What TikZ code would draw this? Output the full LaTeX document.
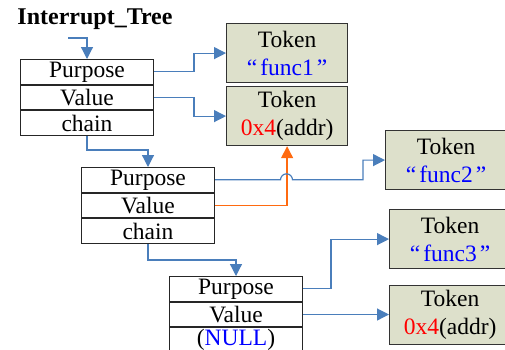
\documentclass[tikz,border=0pt]{standalone}
\usepackage{fontspec}
\setmainfont{Liberation Serif}
\usetikzlibrary{arrows.meta}
\definecolor{linkblue}{HTML}{4A7EBB}
\definecolor{linkorange}{HTML}{FF6A10}
\definecolor{tokenfill}{HTML}{DDE0CB}
\definecolor{txtblue}{HTML}{0000FF}
\definecolor{txtred}{HTML}{FF0000}
\begin{document}
\begin{tikzpicture}[x=1pt,y=-1pt,
  field/.style={draw=black!85, line width=1pt, fill=white,
    minimum width=133pt, minimum height=24.67pt, inner sep=0pt,
    font=\fontsize{23.5}{25}\selectfont},
  token/.style={draw=black!80, line width=1.2pt, fill=tokenfill,
    minimum width=121pt, minimum height=59pt, inner sep=0pt,
    align=center, font=\fontsize{23.5}{28}\selectfont},
  link/.style={draw=linkblue, line width=1.2pt,
    -{Triangle[length=12pt,width=12pt]}},
  backlink/.style={draw=linkorange, line width=1.4pt,
    -{Triangle[length=12pt,width=12pt]}}]
\useasboundingbox (0,0) rectangle (505,349);
\clip (0,0) rectangle (505,349);

% title and entry pointer
\node[font=\fontsize{24}{26}\selectfont\bfseries] (title) at (95,19) {Interrupt\_Tree};
\coordinate (entry) at (68,38);

% first element
\node[field, anchor=north west] (p1) at (20,59) {Purpose};
\node[field, anchor=north] (v1) at (p1.south) {Value};
\node[field, anchor=north] (c1) at (v1.south) {chain};

% second element
\node[field, anchor=north west] (p2) at (81,167) {Purpose};
\node[field, anchor=north] (v2) at (p2.south) {Value};
\node[field, anchor=north] (c2) at (v2.south) {chain};

% third element
\node[field, anchor=north west] (p3) at (169,276) {Purpose};
\node[field, anchor=north] (v3) at (p3.south) {Value};
\node[field, anchor=north] (c3) at (v3.south) {(\textcolor{txtblue}{NULL})};

% tokens
\node[token, anchor=north west] (t1) at (226,23) {Token\\\textcolor{txtblue}{“\kern3pt func1\kern3pt”}};
\node[token, anchor=north west] (t2) at (226,86) {Token\\\textcolor{txtred}{0x4}(addr)};
\node[token, anchor=north west] (t3) at (385,130) {Token\\\textcolor{txtblue}{“\kern3pt func2\kern3pt”}};
\node[token, anchor=north west] (t4) at (389,209) {Token\\\textcolor{txtblue}{“\kern3pt func3\kern3pt”}};
\node[token, anchor=north west] (t5) at (389,285) {Token\\\textcolor{txtred}{0x4}(addr)};

% connectors
\draw[link] (entry) -| (p1.north);
\draw[link] (p1.east) -- ++(40,0) |- (t1.west);
\draw[link] (v1.east) -- ++(40,0) |- (t2.west);
\draw[link] (c1.south) -- ++(0,14) -| (p2.north);

\draw[backlink] (v2.east) -| (t2.south);
\draw[link] (p2.east) -- (p2.east -| 280.5,0) arc (180:360:6) -- (p2.east -| 363,0) |- (t3.west);
\draw[link] (c2.south) -- ++(0,16) -| (p3.north);

\draw[link] (p3.east) -- ++(28,0) |- (t4.west);
\draw[link] (v3.east) -- (v3.east -| t5.west);
\end{tikzpicture}
\end{document}
